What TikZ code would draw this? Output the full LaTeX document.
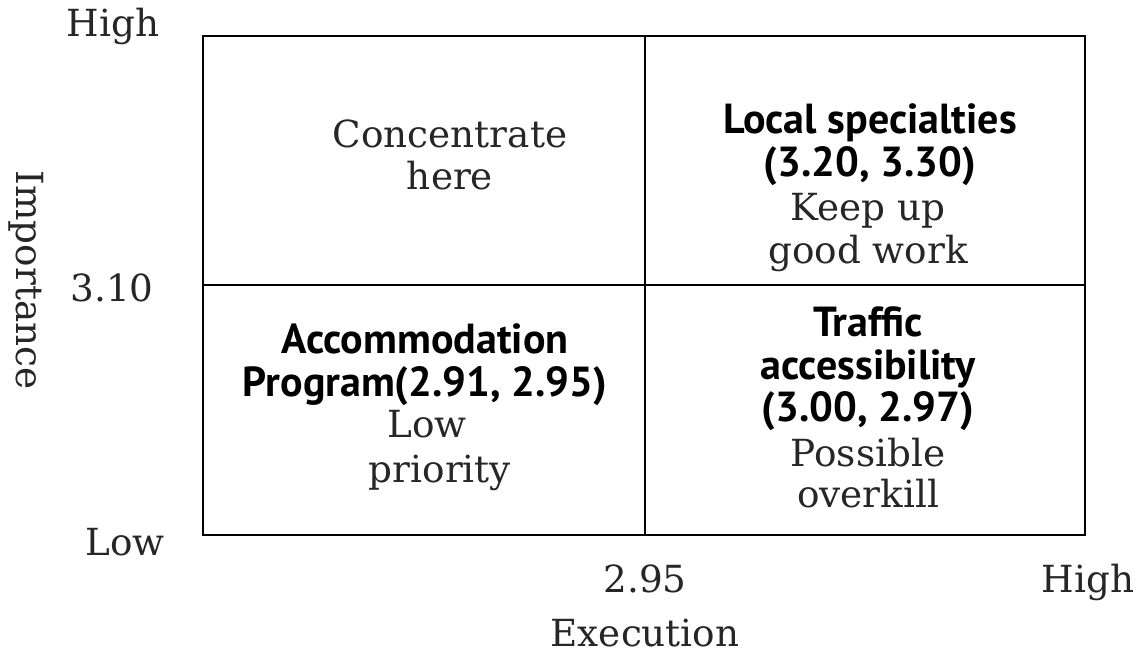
\documentclass[tikz,border=0pt]{standalone}
\usepackage{fontspec}
\setmainfont{DejaVu Serif}
\newfontfamily\headfont{PT Sans}
\usepackage{tikz}

\begin{document}
\begin{tikzpicture}[x=0.75pt,y=-0.75pt,
	txt/.style={anchor=base, font=\fontsize{28}{32}\selectfont, text=black!85},
	hd/.style={anchor=base, font=\headfont\bfseries\fontsize{31.5}{36}\selectfont}]
	\useasboundingbox (0,0) rectangle (1141,656);
	% grid
	\draw[line width=1.6pt] (203,36) rectangle (1085,535);
	\draw[line width=1.6pt] (645,36) -- (645,535);
	\draw[line width=1.6pt] (203,285) -- (1085,285);
	% axes
	\node[txt] (yhigh) at (113,37) {High};
	\node[txt] (ymid) at (112,301) {3.10};
	\node[txt] (ylow) at (125,555) {Low};
	\node[txt] (xmid) at (645,592) {2.95};
	\node[txt] (xhigh) at (1088,592) {High};
	\node[txt] (xlab) at (645,646) {Execution};
	\node[txt, rotate=-90, anchor=center] (ylab) at (26,280) {Importance};
	% top left
	\node[txt] (tl1) at (450,147) {Concentrate};
	\node[txt] (tl2) at (450,190) {here};
	% top right
	\node[hd] (tr1) at (870,133) {Local specialties};
	\node[hd] (tr2) at (870,176) {(3.20, 3.30)};
	\node[txt] (tr3) at (868,220) {Keep up};
	\node[txt] (tr4) at (868,263) {good work};
	% bottom left
	\node[hd] (bl1) at (425,353) {Accommodation};
	\node[hd] (bl2) at (425,396) {Program(2.91, 2.95)};
	\node[txt] (bl3) at (427,437) {Low};
	\node[txt] (bl4) at (440,482) {priority};
	% bottom right
	\node[hd] (br1) at (868,336) {Traffic};
	\node[hd] (br2) at (868,379) {accessibility};
	\node[hd] (br3) at (868,421) {(3.00, 2.97)};
	\node[txt] (br4) at (868,466) {Possible};
	\node[txt] (br5) at (868,507) {overkill};
\end{tikzpicture}
\end{document}
